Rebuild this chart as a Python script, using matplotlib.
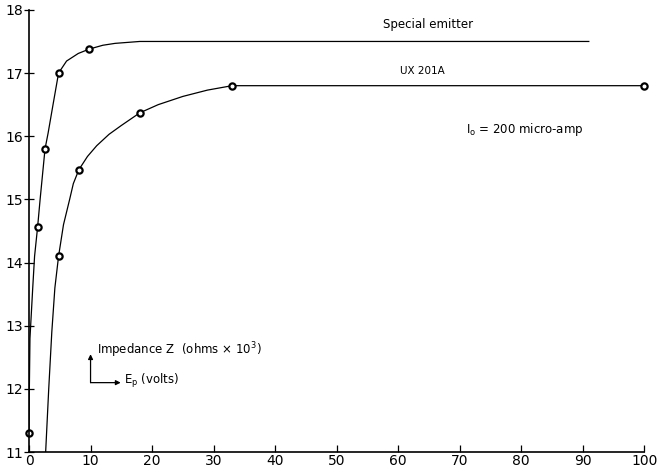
import matplotlib
matplotlib.use('Agg')
import matplotlib.pyplot as plt

# Special emitter: measured points and the hand-drawn curve through them
se_x = [0, 1.4, 2.6, 4.8, 9.8]
se_y = [11.3, 14.57, 15.8, 17.0, 17.38]
se_curve_x = [0, 0.05, 0.15, 0.6, 0.9, 1.4, 1.8, 2.6, 3.1, 3.9, 4.8, 6.1, 8.0, 9.8, 12, 14, 18, 30, 91]
se_curve_y = [11.3, 12.0, 12.8, 13.6, 14.1, 14.57, 15.0, 15.8, 16.05, 16.5, 17.0, 17.19, 17.31,
              17.38, 17.44, 17.47, 17.5, 17.5, 17.5]

# UX 201A
ux_x = [4.8, 8.1, 18, 33, 100]
ux_y = [14.1, 15.47, 16.37, 16.8, 16.8]
ux_curve_x = [2.7, 3.2, 3.7, 4.2, 4.8, 5.6, 6.6, 7.2, 8.1, 9.5, 11, 13, 15, 18, 21, 25, 29, 33, 100]
ux_curve_y = [11.0, 12.0, 12.9, 13.6, 14.1, 14.6, 15.0, 15.25, 15.47, 15.68, 15.85, 16.03, 16.17,
              16.37, 16.5, 16.63, 16.73, 16.8, 16.8]

x_ticks = [0, 10, 20, 30, 40, 50, 60, 70, 80, 90, 100]
y_ticks = [11, 12, 13, 14, 15, 16, 17, 18]

plt.rcParams['font.family'] = 'DejaVu Sans'
fig = plt.figure(figsize=(6.6, 4.7), dpi=100)
ax = fig.add_axes([0.044, 0.038, 0.932, 0.941])

ax.plot(se_curve_x, se_curve_y, color='black', lw=0.9)
ax.plot(ux_curve_x, ux_curve_y, color='black', lw=0.9)
ax.plot(se_x, se_y, 'o', ms=4.5, mfc='white', mec='black', mew=1.6, clip_on=False)
ax.plot(ux_x, ux_y, 'o', ms=4.5, mfc='white', mec='black', mew=1.6, clip_on=False)

ax.set_xlim(0, 100)
ax.set_ylim(11, 18)
ax.set_xticks(x_ticks)
ax.set_yticks(y_ticks)
ax.spines['top'].set_visible(False)
ax.spines['right'].set_visible(False)
ax.spines['left'].set_linewidth(1.2)
ax.spines['bottom'].set_linewidth(1.2)
ax.tick_params(axis='x', direction='in', length=5, width=0.9, labelsize=10, pad=1)
ax.tick_params(axis='y', direction='inout', length=7, width=0.9, labelsize=10, pad=1)

ax.text(64.8, 17.66, 'Special emitter', ha='center', va='bottom', fontsize=8.5)
ax.text(64, 16.95, 'UX 201A', ha='center', va='bottom', fontsize=7.5)
ax.text(71, 16.1, r'I$_{\mathregular{o}}$ = 200 micro-amp', ha='left', va='center', fontsize=8.5)
ax.text(11, 12.62, 'Impedance Z  (ohms × 10$^{3}$)', ha='left', va='center', fontsize=8.5)
ax.text(15.4, 12.12, r'E$_{\mathregular{p}}$ (volts)', ha='left', va='center', fontsize=8.5)

# small axis key: vertical and horizontal arrows
ax.annotate('', xy=(10, 12.55), xytext=(10, 12.1),
            arrowprops=dict(arrowstyle='-|>', lw=0.9, color='black', mutation_scale=7,
                            shrinkA=0, shrinkB=0))
ax.annotate('', xy=(14.9, 12.1), xytext=(10, 12.1),
            arrowprops=dict(arrowstyle='-|>', lw=0.9, color='black', mutation_scale=7,
                            shrinkA=0, shrinkB=0))

fig.savefig('out.png', dpi=100)
